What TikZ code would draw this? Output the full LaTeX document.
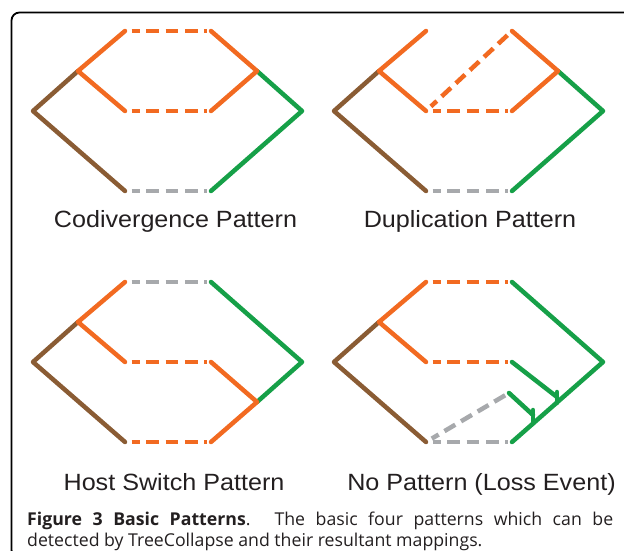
\documentclass[tikz,border=0pt]{standalone}
\usepackage{fontspec}
\setmainfont{Liberation Sans}
\newfontfamily\capfont{Open Sans}
\definecolor{brownc}{RGB}{138,92,52}
\definecolor{orangec}{RGB}{242,106,33}
\definecolor{greenc}{RGB}{22,160,72}
\definecolor{grayc}{RGB}{167,169,172}
\definecolor{textc}{RGB}{35,31,32}
\newcommand{\defpanel}[3]{%
  \coordinate (#1R)  at (#2+33,#3+111);
  \coordinate (#1J)  at (#2+78,#3+71);
  \coordinate (#1T)  at (#2+125,#3+31);
  \coordinate (#1TR) at (#2+211,#3+31);
  \coordinate (#1M)  at (#2+125,#3+111);
  \coordinate (#1MR) at (#2+211,#3+111);
  \coordinate (#1B)  at (#2+125,#3+191);
  \coordinate (#1BR) at (#2+211,#3+191);
  \coordinate (#1H)  at (#2+257,#3+71);
  \coordinate (#1E)  at (#2+302,#3+111);
  \coordinate (#1L)  at (#2+257,#3+151);
}
\tikzset{
  solidline/.style={line width=4.5pt, line cap=round, line join=round},
  dashline/.style={line width=4.5pt, line cap=butt, dash pattern=on 12.6pt off 6.7pt, dash phase=4.6pt, shorten <=6.7pt, shorten >=4.3pt},
  lab/.style={font=\fontsize{23.5}{28}\selectfont, text=textc, inner sep=0pt, anchor=base},
  capt/.style={font=\capfont\fontsize{17.7}{21}\selectfont, text=textc, inner sep=0pt, anchor=base west},
  frame/.style={draw=black, line width=1.8pt, rounded corners=8pt}
}
\begin{document}
\begin{tikzpicture}[x=1pt,y=-1pt]
\useasboundingbox (0,0) rectangle (624,551);
\clip (0,0) rectangle (624,551);
\draw[frame] (11.5,12.5) rectangle (660,558);
\defpanel{a}{0}{0}
\defpanel{b}{301}{0}
\defpanel{c}{0}{251}
\defpanel{d}{301}{251}
% Panel A: codivergence
\draw[solidline, brownc] (aB) -- (aR) -- (aJ);
\draw[solidline, greenc] (aH) -- (aE) -- (aBR);
\draw[solidline, orangec] (aT) -- (aJ) -- (aM);
\draw[solidline, orangec] (aTR) -- (aH) -- (aMR);
\draw[dashline, orangec] (aT) -- (aTR);
\draw[dashline, orangec] (aM) -- (aMR);
\draw[dashline, grayc] (aB) -- (aBR);
% Panel B: duplication
\draw[solidline, brownc] (bB) -- (bR) -- (bJ);
\draw[solidline, greenc] (bH) -- (bE) -- (bBR);
\draw[solidline, orangec] (bT) -- (bJ) -- (bM);
\draw[solidline, orangec] (bTR) -- (bH) -- (bMR);
\draw[dashline, orangec] (bM) -- (bTR);
\draw[dashline, orangec] (bM) -- (bMR);
\draw[dashline, grayc] (bB) -- (bBR);
% Panel C: host switch
\draw[solidline, brownc] (cB) -- (cR) -- (cJ);
\draw[solidline, greenc] (cTR) -- (cE) -- (cL);
\draw[solidline, orangec] (cT) -- (cJ) -- (cM);
\draw[solidline, orangec] (cMR) -- (cL) -- (cBR);
\draw[dashline, grayc] (cT) -- (cTR);
\draw[dashline, orangec] (cM) -- (cMR);
\draw[dashline, orangec] (cB) -- (cBR);
% Panel D: no pattern (loss event)
\coordinate (dK1) at (301+256,251+146);
\coordinate (dK1t) at (301+256,251+141);
\coordinate (dK1m) at (301+256,251+152);
\coordinate (dG2) at (301+208,251+142);
\coordinate (dK2) at (301+232,251+164);
\coordinate (dK2t) at (301+232,251+159);
\coordinate (dK2m) at (301+232,251+172.5);
\draw[solidline, brownc] (dB) -- (dR) -- (dJ);
\draw[solidline, greenc] (dTR) -- (dE) -- (dBR);
\draw[solidline, greenc] (dMR) -- (dK1);
\draw[solidline, greenc] (dK1t) -- (dK1m);
\draw[solidline, greenc] (dG2) -- (dK2);
\draw[solidline, greenc] (dK2t) -- (dK2m);
\draw[solidline, orangec] (dT) -- (dJ) -- (dM);
\draw[dashline, orangec] (dT) -- (dTR);
\draw[dashline, orangec] (dM) -- (dMR);
\draw[dashline, grayc] (dB) -- (dBR);
\draw[dashline, grayc] (dB) -- (dG2);
% Labels
\node[lab] (labA) at (175.5,227.5) {\scalebox{1.07}[1]{Codivergence Pattern}};
\node[lab] (labB) at (470,227.5) {\scalebox{1.07}[1]{Duplication Pattern}};
\node[lab] (labC) at (174,490) {\scalebox{1.07}[1]{Host Switch Pattern}};
\node[lab] (labD) at (481.5,490) {\scalebox{1.07}[1]{No Pattern (Loss Event)}};
% Caption
\node[capt] (cap1) at (27,525.7) {\makebox[586pt][s]{\bfseries Figure 3 Basic Patterns\mdseries. The basic four patterns which can be}};
\node[capt] (cap2) at (27,546.7) {detected by TreeCollapse and their resultant mappings.};
\end{tikzpicture}
\end{document}
